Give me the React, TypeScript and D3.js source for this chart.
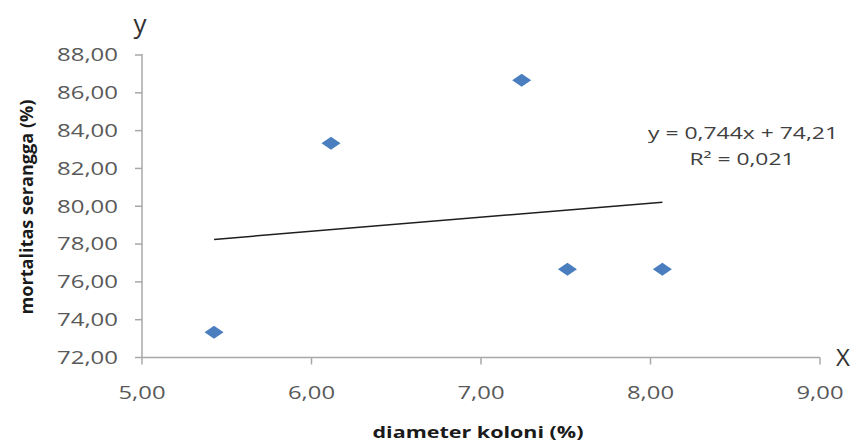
import React from "react";
import * as d3 from "d3";

const diameter = [5.425, 6.115, 7.24, 7.51, 8.07];
const mortality = [73.33, 83.33, 86.67, 76.67, 76.67];
const xTicks = [5, 6, 7, 8, 9];
const yTicks = [72, 74, 76, 78, 80, 82, 84, 86, 88];
const slope = 0.744;
const intercept = 74.21;
const eqLabel = "y = 0,744x + 74,21";
const r2Label = "R² = 0,021";
const xTitle = "diameter koloni (%)";
const yTitle = "mortalitas serangga (%)";

const fmt = (v: number) => v.toFixed(2).replace(".", ",");

export default function App() {
  const W = 857, H = 443;
  const x = d3.scaleLinear().domain([5, 9]).range([142, 820]);
  const y = d3.scaleLinear().domain([72, 88]).range([357.5, 55]);
  const axisColor = "#a8a8a8";
  const font = "'Open Sans', sans-serif";
  const xMin = d3.min(diameter)!, xMax = d3.max(diameter)!;
  const trend = d3.line<number>().x((d) => x(d)).y((d) => y(slope * d + intercept));
  const diamond = (cx: number, cy: number) =>
    `M${cx - 9.5},${cy}L${cx},${cy - 6.5}L${cx + 9.5},${cy}L${cx},${cy + 6.5}Z`;

  return (
    <svg width={W} height={H} style={{ position: "absolute", left: 0, top: 0, background: "#fff" }} fontFamily={font}>
      <rect width={W} height={H} fill="#fff" />
      {/* y axis */}
      <line x1={x(5)} x2={x(5)} y1={y(88) - 1} y2={y(72)} stroke={axisColor} strokeWidth={1.5} />
      {yTicks.map((t) => (
        <g key={"y" + t}>
          <line x1={x(5) - 7} x2={x(5)} y1={y(t)} y2={y(t)} stroke={axisColor} strokeWidth={1.5} />
          <text x={118} y={y(t)} dy="0.35em" textAnchor="end" fontSize={18} fill="#595959"
            textLength={61} lengthAdjust="spacingAndGlyphs">{fmt(t)}</text>
        </g>
      ))}
      {/* x axis */}
      <line x1={x(5)} x2={x(9)} y1={y(72)} y2={y(72)} stroke={axisColor} strokeWidth={1.5} />
      {xTicks.map((t) => (
        <g key={"x" + t}>
          <line x1={x(t)} x2={x(t)} y1={y(72)} y2={y(72) + 7} stroke={axisColor} strokeWidth={1.5} />
          <text x={x(t)} y={393} dy="0.35em" textAnchor="middle" fontSize={18} fill="#595959"
            textLength={47} lengthAdjust="spacingAndGlyphs">{fmt(t)}</text>
        </g>
      ))}
      {/* trend line */}
      <path d={trend([xMin, xMax])!} stroke="#1e1e1e" strokeWidth={1.5} fill="none" />
      {/* points */}
      {diameter.map((d, i) => (
        <path key={"p" + i} d={diamond(x(d), y(mortality[i]))} fill="#4a7ebf" />
      ))}
      {/* equation */}
      <text x={743} y={139} textAnchor="middle" fontSize={16} fill="#404040"
        textLength={190} lengthAdjust="spacingAndGlyphs">{eqLabel}</text>
      <text x={742} y={165} textAnchor="middle" fontSize={16} fill="#404040"
        textLength={105} lengthAdjust="spacingAndGlyphs">{r2Label}</text>
      {/* titles */}
      <text x={478} y={432} dy="0.35em" textAnchor="middle" fontSize={16} fontWeight="bold" fill="#1a1a1a"
        textLength={211} lengthAdjust="spacingAndGlyphs">{xTitle}</text>
      <text transform={`translate(33,207) rotate(-90)`} textAnchor="middle" fontSize={17} fontWeight="bold" fill="#1a1a1a"
        textLength={215} lengthAdjust="spacingAndGlyphs">{yTitle}</text>
      <text x={140} y={25} dy="0.3em" textAnchor="middle" fontSize={26} fill="#333">y</text>
      <text x={843} y={358} dy="0.35em" textAnchor="middle" fontSize={24} fill="#333">X</text>
    </svg>
  );
}
